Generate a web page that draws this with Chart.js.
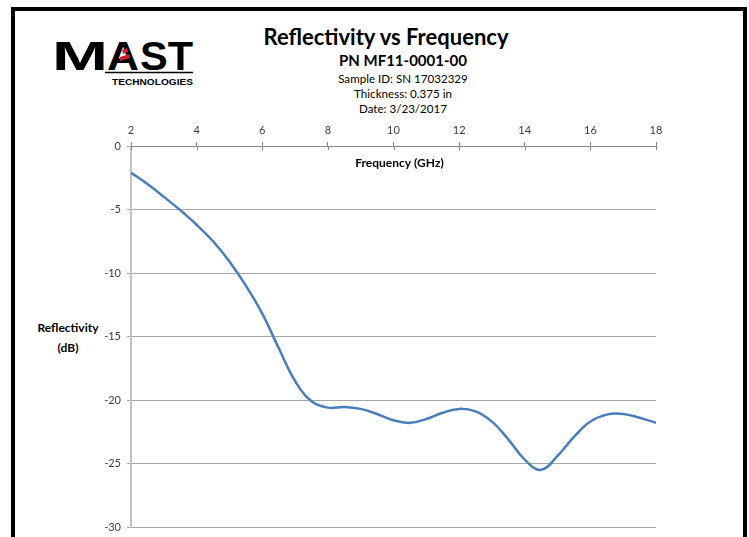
<!DOCTYPE html>
<html>
<head>
<meta charset="utf-8">
<script src="https://cdn.jsdelivr.net/npm/chart.js@4.4.1/dist/chart.umd.min.js"></script>
<style>
  html, body { margin: 0; padding: 0; background: #fff; overflow: hidden; }
  body { width: 749px; height: 537px; position: relative; font-family: Lato, "Open Sans", sans-serif; color: #000; }
  #frame { position: absolute; left: 11px; top: 7px; width: 728px; height: 600px; border: 4px solid #000; }
  #chart { position: absolute; left: 0; top: 0; }
  .hdr { position: absolute; width: 400px; text-align: center; white-space: nowrap; }
  #title { left: 186px; top: 23px; font-size: 22px; font-weight: 700; }
  #pn { left: 203px; top: 51px; font-size: 15px; font-weight: 700; }
  #info { left: 203px; top: 71px; font-size: 11.6px; line-height: 15px; }
  #ylab { position: absolute; left: 28px; top: 318px; width: 80px; text-align: center; font-size: 12px; font-weight: 700; line-height: 20px; }
  #logo { position: absolute; left: 45px; top: 30px; }
</style>
</head>
<body>
<div id="frame"></div>
<svg id="logo" width="160" height="60" viewBox="0 0 160 60">
  <text y="40" font-family="Liberation Sans" font-weight="700" font-size="40" fill="#000">
    <tspan x="7" textLength="56" lengthAdjust="spacingAndGlyphs">M</tspan><tspan x="62" textLength="32" lengthAdjust="spacingAndGlyphs">A</tspan><tspan x="95" textLength="53" lengthAdjust="spacingAndGlyphs">ST</tspan>
  </text>
  <polygon points="77,20 82,18 83,22 78,24" fill="#d0202e"/>
  <polygon points="75,27 84,24 85,28 75,31" fill="#d0202e"/>
  <line x1="60" y1="42.5" x2="148" y2="42.5" stroke="#000" stroke-width="1.5"/>
  <text x="67" y="55" font-family="Liberation Sans" font-weight="700" font-size="9.5" textLength="81" lengthAdjust="spacingAndGlyphs">TECHNOLOGIES</text>
</svg>
<div class="hdr" id="title">Reflectivity vs Frequency</div>
<div class="hdr" id="pn">PN MF11-0001-00</div>
<div class="hdr" id="info">Sample ID: SN 17032329<br>Thickness: 0.375 in<br>Date: 3/23/2017</div>
<div id="ylab">Reflectivity<br>(dB)</div>
<canvas id="chart" width="749" height="537"></canvas>
<script>
// data
const freqGHz = [2, 2.5, 3, 3.5, 4, 4.5, 5, 5.5, 6, 6.5, 7, 7.5, 8, 8.5, 9, 9.5, 10,
                 10.5, 11, 11.5, 12, 12.5, 13, 13.5, 14, 14.5, 15, 15.5, 16, 16.5, 17, 17.5, 18];
const reflectivityDb = [-2.1, -3.0, -4.0, -5.05, -6.2, -7.5, -9.1, -11.0, -13.2, -15.9, -18.5, -20.1, -20.6,
                        -20.55, -20.7, -21.1, -21.6, -21.8, -21.5, -21.0, -20.7, -20.9, -21.7, -23.1, -24.7,
                        -25.5, -24.4, -22.9, -21.7, -21.15, -21.1, -21.4, -21.8];
const xTicks = [2, 4, 6, 8, 10, 12, 14, 16, 18];
const yTicks = [0, -5, -10, -15, -20, -25, -30];

const points = freqGHz.map((f, i) => ({ x: f, y: reflectivityDb[i] }));

// extra bits Chart.js won't do: inward tick marks and the x title inside the plot
const extras = {
  id: "extras",
  afterDraw(chart) {
    const ctx = chart.ctx;
    const xs = chart.scales.x;
    const top = chart.chartArea.top;
    ctx.save();
    ctx.strokeStyle = "#888";
    ctx.lineWidth = 1;
    xTicks.forEach(v => {
      const px = Math.round(xs.getPixelForValue(v)) + 0.5;
      ctx.beginPath();
      ctx.moveTo(px, top);
      ctx.lineTo(px, top + 4);
      ctx.stroke();
    });
    ctx.fillStyle = "#000";
    ctx.font = "bold 12px Lato";
    ctx.textAlign = "center";
    ctx.textBaseline = "middle";
    ctx.fillText("Frequency (GHz)", (chart.chartArea.left + chart.chartArea.right) / 2 + 6, top + 17);
    ctx.restore();
  }
};

new Chart(document.getElementById("chart"), {
  type: "line",
  data: {
    datasets: [{
      data: points,
      borderColor: "#4a7ebb",
      borderWidth: 2.5,
      pointRadius: 0,
      tension: 0.4,
      fill: false
    }]
  },
  options: {
    responsive: false,
    animation: false,
    layout: { padding: { top: 0, left: 0, right: 93, bottom: 10 } },
    plugins: { legend: { display: false }, tooltip: { enabled: false } },
    scales: {
      x: {
        type: "linear",
        position: "top",
        min: 2,
        max: 18,
        afterBuildTicks: s => { s.ticks = xTicks.map(v => ({ value: v })); },
        afterFit: s => { s.height = 146; },
        ticks: { color: "#404040", font: { family: "Lato", size: 11 }, padding: 5, maxRotation: 0 },
        grid: { drawOnChartArea: false, tickLength: 4, color: "#888" },
        border: { color: "#888", width: 1 }
      },
      y: {
        min: -30,
        max: 0,
        afterBuildTicks: s => { s.ticks = yTicks.map(v => ({ value: v })); },
        afterFit: s => { s.width = 131; s.paddingTop = 0; s.paddingBottom = 0; },
        ticks: { color: "#404040", font: { family: "Lato", size: 11 }, padding: 6 },
        grid: { color: "#a6a6a6", lineWidth: 1, tickLength: 4 },
        border: { color: "#c4c4c4", width: 2 }
      }
    }
  },
  plugins: [extras]
});
</script>
</body>
</html>
